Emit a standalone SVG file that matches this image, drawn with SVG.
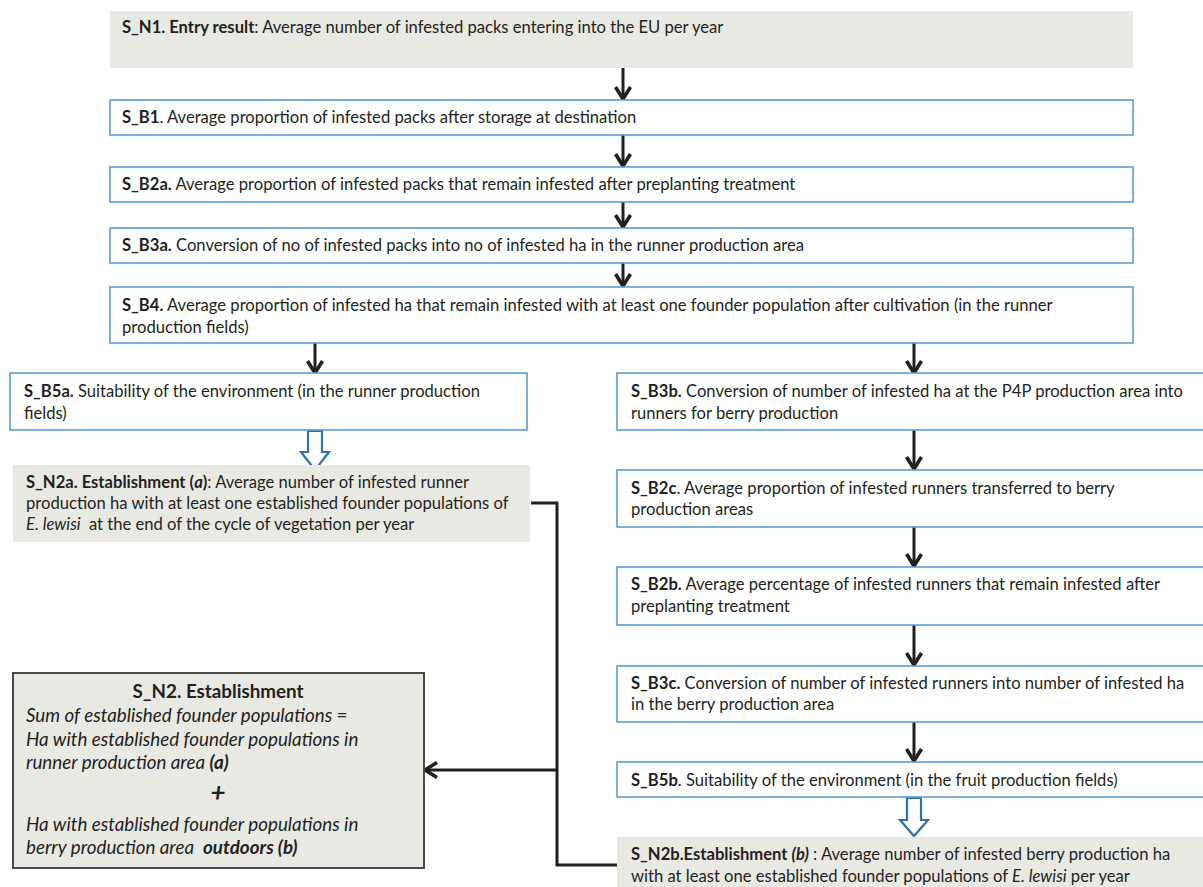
<svg xmlns="http://www.w3.org/2000/svg" width="1203" height="887" viewBox="0 0 1203 887">
<style>
text{font-family:Lato,"Liberation Sans",sans-serif;font-size:16.6px;fill:#231f20}
.b{font-weight:bold}
.i{font-style:italic}
.big{font-size:18.8px}
.box{fill:#fff;stroke:#5b9bd5;stroke-width:1.6}
.gray{fill:#e9e9e4;stroke:none}
.n2{fill:#e9e9e4;stroke:#4a4a4a;stroke-width:2}
.ln{fill:none;stroke:#231f20;stroke-width:3}
.hol{fill:#fff;stroke:#3072a8;stroke-width:2.2;stroke-linejoin:miter}
</style>
<defs>
<marker id="chev" markerUnits="userSpaceOnUse" viewBox="0 0 18 18" refX="15" refY="9" markerWidth="18" markerHeight="18" orient="auto">
<path d="M3,1.5 L15,9 L3,16.5" fill="none" stroke="#231f20" stroke-width="3.6"/>
</marker>
</defs>

<g id="connectors">
<line class="ln" x1="623" y1="68" x2="623" y2="99" marker-end="url(#chev)"/>
<line class="ln" x1="623" y1="135" x2="623" y2="166" marker-end="url(#chev)"/>
<line class="ln" x1="623" y1="202" x2="623" y2="227" marker-end="url(#chev)"/>
<line class="ln" x1="623" y1="263" x2="623" y2="286" marker-end="url(#chev)"/>
<line class="ln" x1="315" y1="343" x2="315" y2="373" marker-end="url(#chev)"/>
<line class="ln" x1="914" y1="343" x2="914" y2="373" marker-end="url(#chev)"/>
<line class="ln" x1="914" y1="430" x2="914" y2="469" marker-end="url(#chev)"/>
<line class="ln" x1="914" y1="527" x2="914" y2="566" marker-end="url(#chev)"/>
<line class="ln" x1="914" y1="625" x2="914" y2="665" marker-end="url(#chev)"/>
<line class="ln" x1="914" y1="722" x2="914" y2="761" marker-end="url(#chev)"/>
<polygon class="hol" points="308,431 322,431 322,452 329,452 315,470 301,452 308,452"/>
<polygon class="hol" points="907,798 921,798 921,820 928,820 914,836 900,820 907,820"/>
<polyline class="ln" points="531,503 557,503 557,865 617,865"/>
<line class="ln" x1="557" y1="770" x2="425" y2="770" marker-end="url(#chev)"/>
</g>

<g id="S_N1">
<rect class="gray" x="110" y="11" width="1023" height="57"/>
<text x="122" y="33"><tspan class="b">S_N1. Entry result</tspan>: Average number of infested packs entering into the EU per year</text>
</g>
<g id="S_B1">
<rect class="box" x="110" y="100" width="1023" height="35"/>
<text x="122" y="123"><tspan class="b">S_B1</tspan>. Average proportion of infested packs after storage at destination</text>
</g>
<g id="S_B2a">
<rect class="box" x="110" y="167" width="1023" height="35"/>
<text x="122" y="190"><tspan class="b">S_B2a.</tspan> Average proportion of infested packs that remain infested after preplanting treatment</text>
</g>
<g id="S_B3a">
<rect class="box" x="110" y="228" width="1023" height="35"/>
<text x="122" y="251"><tspan class="b">S_B3a.</tspan> Conversion of no of infested packs into no of infested ha in the runner production area</text>
</g>
<g id="S_B4">
<rect class="box" x="110" y="287" width="1023" height="56"/>
<text x="122" y="311"><tspan class="b">S_B4.</tspan> Average proportion of infested ha that remain infested with at least one founder population after cultivation (in the runner</text>
<text x="122" y="333">production fields)</text>
</g>
<g id="S_B5a">
<rect class="box" x="10" y="373" width="517" height="57"/>
<text x="24" y="397"><tspan class="b">S_B5a.</tspan> Suitability of the environment (in the runner production</text>
<text x="24" y="419">fields)</text>
</g>
<g id="S_N2a">
<rect class="gray" x="13" y="465" width="517" height="77"/>
<text x="26" y="488"><tspan class="b">S_N2a. Establishment (</tspan><tspan class="b i">a</tspan><tspan class="b">)</tspan>: Average number of infested runner</text>
<text x="26" y="509">production ha with at least one established founder populations of</text>
<text x="26" y="530"><tspan class="i">E. lewisi</tspan><tspan dx="4"> at the end of the cycle of vegetation per year</tspan></text>
</g>
<g id="S_B3b">
<rect class="box" x="617" y="373" width="600" height="57"/>
<text x="631" y="397"><tspan class="b">S_B3b.</tspan> Conversion of number of infested ha at the P4P production area into</text>
<text x="631" y="419">runners for berry production</text>
</g>
<g id="S_B2c">
<rect class="box" x="617" y="470" width="600" height="57"/>
<text x="631" y="494"><tspan class="b">S_B2c</tspan>. Average proportion of infested runners transferred to berry</text>
<text x="631" y="515">production areas</text>
</g>
<g id="S_B2b">
<rect class="box" x="617" y="567" width="600" height="58"/>
<text x="631" y="590"><tspan class="b">S_B2b.</tspan> Average percentage of infested runners that remain infested after</text>
<text x="631" y="612">preplanting treatment</text>
</g>
<g id="S_B3c">
<rect class="box" x="617" y="666" width="600" height="56"/>
<text x="631" y="689"><tspan class="b">S_B3c.</tspan> Conversion of number of infested runners into number of infested ha</text>
<text x="631" y="710">in the berry production area</text>
</g>
<g id="S_B5b">
<rect class="box" x="617" y="762" width="600" height="35"/>
<text x="631" y="786"><tspan class="b">S_B5b</tspan>. Suitability of the environment (in the fruit production fields)</text>
</g>
<g id="S_N2b">
<rect class="gray" x="617" y="837" width="600" height="60"/>
<text x="631" y="860"><tspan class="b">S_N2b.Establishment </tspan><tspan class="b i">(b)</tspan> : Average number of infested berry production ha</text>
<text x="631" y="882">with at least one established founder populations of <tspan class="i">E. lewisi</tspan> per year</text>
</g>
<g id="S_N2">
<rect class="n2" x="13" y="673" width="411" height="195"/>
<text x="218" y="698" text-anchor="middle" class="b big">S_N2. Establishment</text>
<text x="26" y="722" class="i big">Sum of established founder populations =</text>
<text x="26" y="746" class="i big">Ha with established founder populations in</text>
<text x="26" y="769" class="i big">runner production area <tspan class="b">(a)</tspan></text>
<text x="218" y="802" text-anchor="middle" class="b i" style="font-size:26px">+</text>
<text x="26" y="831" class="i big">Ha with established founder populations in</text>
<text x="26" y="854" class="i big">berry production area<tspan dx="9" class="b">outdoors (b)</tspan></text>
</g>
</svg>
